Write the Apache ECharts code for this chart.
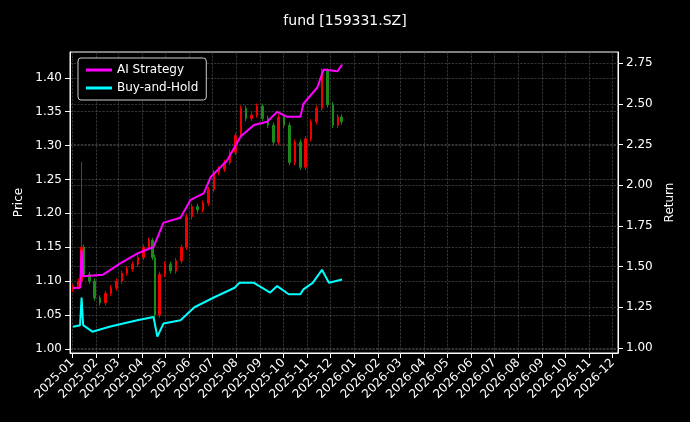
<!DOCTYPE html><html><head><meta charset="utf-8"><script src="https://cdn.jsdelivr.net/npm/echarts@6/dist/echarts.min.js"></script>
<style>html,body{margin:0;background:#000}#c{width:690px;height:422px}</style></head><body><div id="c"></div><script>
const priceDates=['2025-01-02','2025-01-09','2025-01-13','2025-01-16','2025-01-23','2025-01-30','2025-02-06','2025-02-13','2025-02-20','2025-02-27','2025-03-06','2025-03-13','2025-03-20','2025-03-27','2025-04-03','2025-04-10','2025-04-15','2025-04-18','2025-04-24','2025-05-01','2025-05-08','2025-05-15','2025-05-22','2025-05-29','2025-06-05','2025-06-12','2025-06-19','2025-06-26','2025-07-03','2025-07-10','2025-07-17','2025-07-24','2025-07-31','2025-08-07','2025-08-14','2025-08-21','2025-08-28','2025-09-04','2025-09-11','2025-09-18','2025-09-25','2025-10-02','2025-10-09','2025-10-16','2025-10-23','2025-10-30','2025-11-06','2025-11-13','2025-11-20','2025-11-27','2025-12-04','2025-12-11','2025-12-15'];
const priceClose=[1.092,1.100,1.150,1.110,1.100,1.075,1.068,1.082,1.090,1.100,1.112,1.118,1.125,1.135,1.150,1.160,1.135,1.050,1.110,1.125,1.115,1.130,1.150,1.195,1.210,1.205,1.215,1.235,1.260,1.265,1.275,1.290,1.315,1.355,1.340,1.345,1.358,1.340,1.330,1.305,1.342,1.330,1.275,1.305,1.268,1.310,1.335,1.355,1.410,1.360,1.330,1.342,1.335];
const spikeDate='2025-01-13', spikeHigh=1.276;
const aiDates=['2025-01-02','2025-01-11','2025-01-13','2025-01-15','2025-02-10','2025-03-04','2025-03-26','2025-04-16','2025-04-29','2025-05-21','2025-06-03','2025-06-20','2025-06-29','2025-07-20','2025-08-07','2025-08-24','2025-09-10','2025-09-23','2025-10-06','2025-10-23','2025-10-27','2025-11-14','2025-11-22','2025-12-10','2025-12-16'];
const aiReturn=[1.368,1.37,1.60,1.44,1.45,1.52,1.58,1.62,1.77,1.80,1.91,1.95,2.05,2.15,2.30,2.37,2.39,2.45,2.42,2.42,2.50,2.60,2.71,2.70,2.74];
const bhDates=['2025-01-02','2025-01-11','2025-01-13','2025-01-15','2025-01-27','2025-02-18','2025-03-26','2025-04-16','2025-04-21','2025-04-29','2025-05-21','2025-06-08','2025-07-03','2025-07-30','2025-08-05','2025-08-24','2025-09-14','2025-09-23','2025-10-08','2025-10-23','2025-10-27','2025-11-08','2025-11-20','2025-11-29','2025-12-16'];
const bhReturn=[1.13,1.14,1.31,1.14,1.10,1.13,1.17,1.19,1.07,1.15,1.17,1.25,1.31,1.37,1.40,1.40,1.34,1.38,1.33,1.33,1.36,1.40,1.48,1.40,1.42];
const priceTicks=[1.00,1.05,1.10,1.15,1.20,1.25,1.30,1.35,1.40];
const returnTicks=[1.00,1.25,1.50,1.75,2.00,2.25,2.50,2.75];
const candles=priceDates.map((d,i)=>{const o=i?priceClose[i-1]:priceClose[i]-0.004,c=priceClose[i];let h=Math.max(o,c)+0.004;if(d===spikeDate)h=spikeHigh;return [d,o,c,Math.min(o,c)-0.004,h];});
const gl={lineStyle:{color:'#555',type:'dashed',width:0.6}};
const ch=echarts.init(document.getElementById('c'));
function yax(min,max,ticks,name,gap){return {type:'value',min:min,max:max,name:name,nameLocation:'middle',nameGap:gap,nameTextStyle:{color:'#fff',fontSize:12,fontFamily:'DejaVu Sans'},axisLine:{show:true,lineStyle:{color:'#fff'}},axisTick:{show:true,customValues:ticks},splitLine:{show:true,...gl},axisLabel:{color:'#fff',fontSize:12,fontFamily:'DejaVu Sans',customValues:ticks,formatter:v=>v.toFixed(2)}};}
ch.setOption({backgroundColor:'#000',animation:false,
title:{text:'fund [159331.SZ]',left:'center',top:9,textStyle:{color:'#fff',fontSize:14,fontWeight:'normal',fontFamily:'DejaVu Sans'}},
legend:{data:['AI Strategy','Buy-and-Hold'],orient:'vertical',left:78,top:58,padding:[6,8],itemGap:6,itemWidth:26,itemHeight:3,icon:'rect',backgroundColor:'#000',borderColor:'#ccc',borderWidth:1,borderRadius:3,textStyle:{color:'#fff',fontSize:12,fontFamily:'DejaVu Sans'}},
grid:{left:70,right:72,top:52,bottom:69,show:true,borderColor:'#fff',borderWidth:1},
xAxis:{type:'time',min:'2024-12-29',max:'2026-12-08',splitNumber:24,axisLine:{lineStyle:{color:'#fff'}},axisTick:{lineStyle:{color:'#fff'}},splitLine:{show:true,...gl},
axisLabel:{color:'#fff',rotate:45,fontSize:12,fontFamily:'DejaVu Sans',formatter:v=>{const d=new Date(v);return d.getFullYear()+'-'+String(d.getMonth()+1).padStart(2,'0');},hideOverlap:false}},
yAxis:[yax(0.994,1.438,priceTicks,'Price',42),yax(0.969,2.818,returnTicks,'Return',45)],
series:[{type:'candlestick',data:candles,barMaxWidth:2,itemStyle:{color:'#e00',color0:'#1a8a1a',borderColor:'#e00',borderColor0:'#1a8a1a',borderWidth:1}},
{name:'AI Strategy',type:'line',yAxisIndex:1,showSymbol:false,data:aiDates.map((d,i)=>[d,aiReturn[i]]),lineStyle:{color:'#ff00ff',width:2},itemStyle:{color:'#ff00ff'}},
{name:'Buy-and-Hold',type:'line',yAxisIndex:1,showSymbol:false,data:bhDates.map((d,i)=>[d,bhReturn[i]]),lineStyle:{color:'#00ffff',width:2},itemStyle:{color:'#00ffff'}}]});
</script></body></html>
